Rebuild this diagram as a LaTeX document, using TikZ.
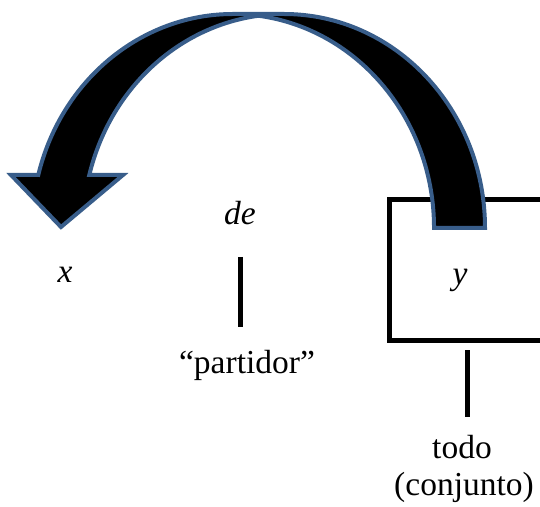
\documentclass[tikz,border=0pt]{standalone}
\usepackage{fontspec}
\setmainfont{Liberation Serif}
\definecolor{arrowedge}{HTML}{385D8A}
\begin{document}
\begin{tikzpicture}[x=1pt,y=1pt,
  lbl/.style={anchor=base,inner sep=0pt,font=\fontsize{33.5}{37}\selectfont},
  tick/.style={line width=5pt},
  boxline/.style={line width=5pt},
  bigarrow/.style={fill=black,draw=arrowedge,line width=4pt,line join=miter}]
\useasboundingbox (0,0) rectangle (540,506);
\clip (0,0) rectangle (540,506);
% box (right side beyond the picture)
\draw[boxline] (570,306.5) -- (389.5,306.5) -- (389.5,165) -- (570,165);
% labels
\node[lbl] (de) at (240,281) {\itshape de};
\node[lbl] (x) at (65,223) {\itshape x};
\node[lbl] (y) at (460,221) {\itshape y};
\node[lbl] (partidor) at (247,133) {“partidor”};
\node[lbl] (todo) at (462,48) {todo};
\node[lbl] (conj) at (464,11) {(conjunto)};
% ticks
\coordinate (d1) at (240.3,249);
\coordinate (d2) at (240.3,179);
\coordinate (t1) at (467.7,156);
\coordinate (t2) at (467.7,89);
\draw[tick] (d1) -- (d2);
\draw[tick] (t1) -- (t2);
% curved arrow: two equal half-ellipses shifted sideways
\draw[bigarrow] (485,278)
  arc[start angle=0,end angle=90,x radius=201pt,y radius=214pt]
  -- (233,492)
  arc[start angle=90,end angle=165.66,x radius=201pt,y radius=214pt]
  -- (11,331) -- (61,279) -- (123,331) -- (89.3,331)
  arc[start angle=165.66,end angle=97.29,x radius=201pt,y radius=214pt]
  arc[start angle=82.71,end angle=0,x radius=201pt,y radius=214pt]
  -- cycle;
\end{tikzpicture}
\end{document}
